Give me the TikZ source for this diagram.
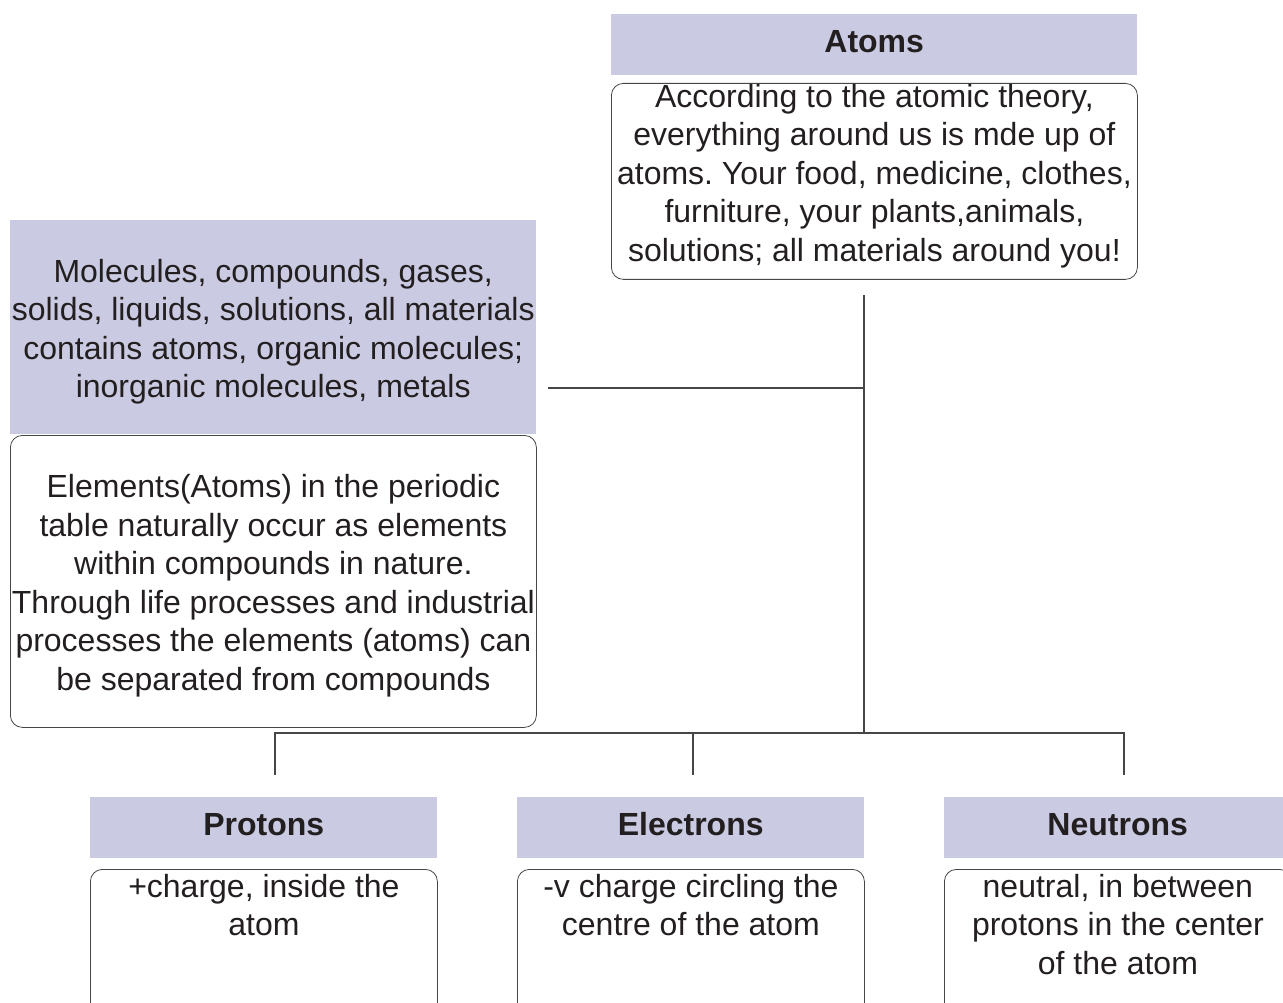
\documentclass[tikz,border=0pt]{standalone}
\usepackage{fontspec}
\setmainfont{Liberation Sans}
\usetikzlibrary{positioning}
\definecolor{headfill}{RGB}{202,203,226}
\definecolor{ink}{RGB}{35,31,32}
\definecolor{rulegray}{RGB}{70,70,70}
\newcommand{\bigtext}{\fontsize{32}{38.5}\selectfont\frenchspacing}
\newcommand{\toproom}{\rule{0pt}{32pt}}
\tikzset{
  shade/.style={anchor=north west, fill=headfill, text=ink, inner sep=0pt, align=center, font=\bigtext},
  head/.style={shade, minimum height=61pt, font=\bfseries\bigtext},
  info/.style={anchor=north west, draw=rulegray, line width=0.8pt, rounded corners=12pt, inner sep=0pt, text=ink, align=center, font=\bigtext},
  lbl/.style={anchor=north, text=ink, inner sep=0pt, align=center, font=\bigtext},
  link/.style={draw=rulegray, line width=1.2pt}
}
\begin{document}
\begin{tikzpicture}[x=1pt,y=-1pt]
        \useasboundingbox (0,0) rectangle (1283,1003);
        \clip (0,0) rectangle (1283,1003);

        \coordinate (trunktop) at (864,295);
        \coordinate (fork) at (864,733);
        \coordinate (side) at (548,388);
        \coordinate (tee) at (864,388);
        \coordinate (pdrop) at (275,775);
        \coordinate (edrop) at (693,775);
        \coordinate (ndrop) at (1124,775);

        \node[head, minimum width=526pt] (atoms) at (611,14) {\strut Atoms};
        \node[info, minimum width=526pt, minimum height=196pt] (atombox) at (611,83) {};
        \node[lbl] (atomtxt) at ([yshift=-1pt]atombox.north)
            {According to the atomic theory,\\ everything around us is mde up of\\ atoms. Your food, medicine, clothes,\\ furniture, your plants,animals,\\ solutions; all materials around you!};

        \node[shade, minimum width=526pt, minimum height=214pt] (mols) at (10,220)
            {\toproom Molecules, compounds, gases,\\ solids, liquids, solutions, all materials\\ contains atoms, organic molecules;\\ inorganic molecules, metals};
        \node[info, minimum width=526pt, minimum height=292pt] (elems) at (10,435)
            {\toproom Elements(Atoms) in the periodic\\ table naturally occur as elements\\ within compounds in nature.\\ Through life processes and industrial\\ processes the elements (atoms) can\\ be separated from compounds};

        \node[head, minimum width=347pt] (protons) at (90,797) {\strut Protons};
        \node[head, minimum width=347pt] (electrons) at (517,797) {\strut Electrons};
        \node[head, minimum width=347pt] (neutrons) at (944,797) {\strut Neutrons};

        \node[info, minimum width=347pt, minimum height=170pt] (pbox) at (90,869) {};
        \node[info, minimum width=347pt, minimum height=170pt] (ebox) at (517,869) {};
        \node[info, minimum width=347pt, minimum height=170pt] (nbox) at (944,869) {};
        \node[lbl] (ptxt) at ([yshift=-5pt]pbox.north) {+charge, inside the\\ atom};
        \node[lbl] (etxt) at ([yshift=-5pt]ebox.north) {-v charge circling the\\ centre of the atom};
        \node[lbl] (ntxt) at ([yshift=-5pt]nbox.north) {neutral, in between\\ protons in the center\\ of the atom};

        \draw[link] (trunktop) -- (fork);
        \draw[link] (side) -- (tee);
        \draw[link] (pdrop) |- (fork) -| (ndrop);
        \draw[link] (edrop) -- (edrop |- fork);
    \end{tikzpicture}
\end{document}
